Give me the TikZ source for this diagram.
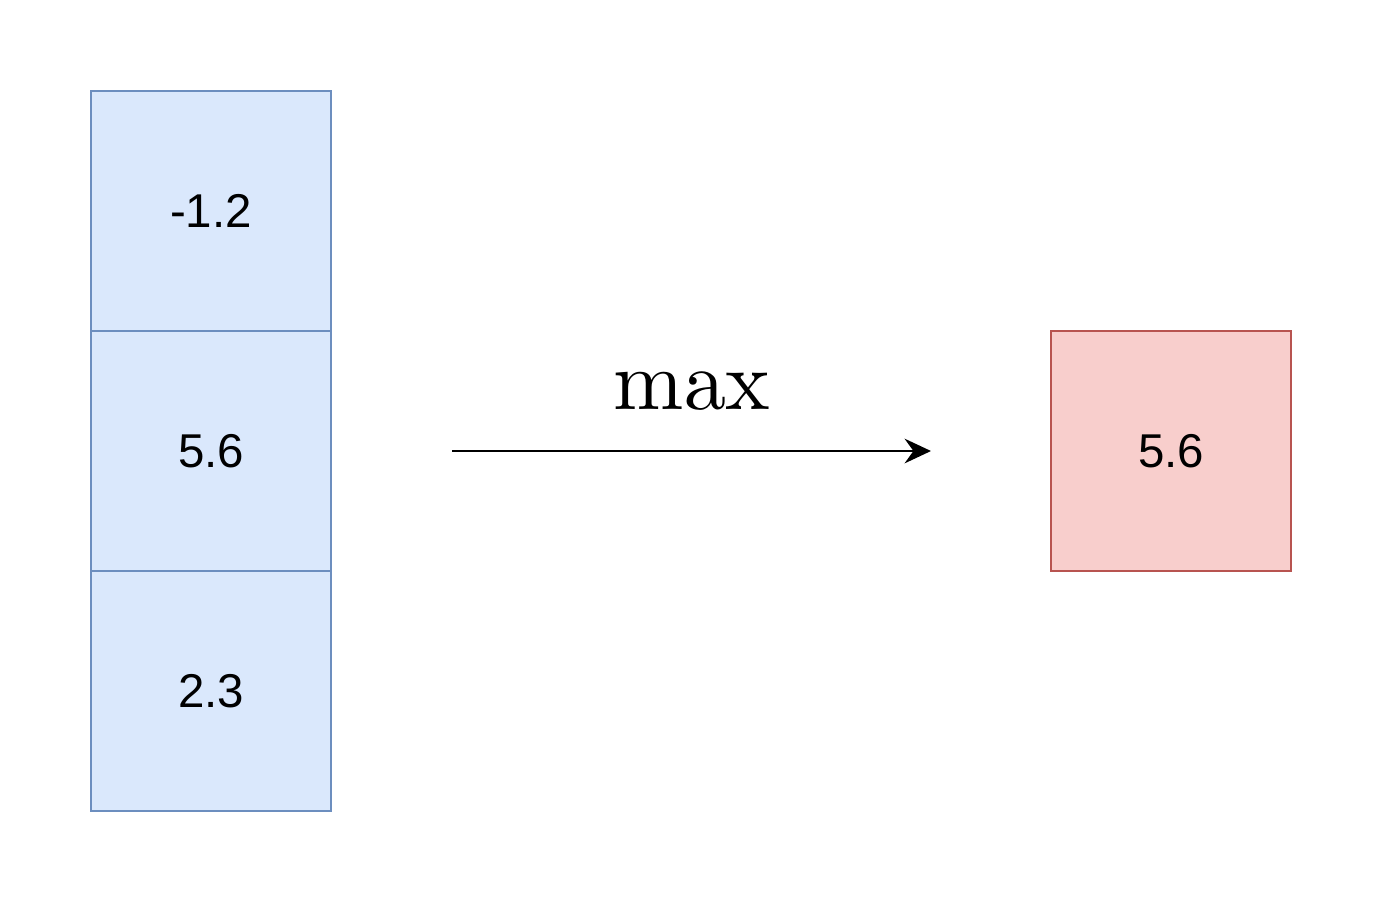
\documentclass[tikz,border=0pt]{standalone}
\usepackage[no-math]{fontspec}
\setmainfont{Liberation Sans}
\usepackage{amsmath}
\usetikzlibrary{arrows.meta, positioning}
\definecolor{blueFill}{HTML}{DAE8FC}
\definecolor{blueLine}{HTML}{6C8EBF}
\definecolor{redFill}{HTML}{F8CECC}
\definecolor{redLine}{HTML}{B85450}
\tikzset{
  cell/.style={draw=blueLine, fill=blueFill, line width=0.75pt, minimum size=2.4cm, inner sep=0pt, font=\fontsize{13.5}{16}\selectfont},
  result/.style={cell, draw=redLine, fill=redFill},
}

\begin{document}
\begin{tikzpicture}[>=Stealth]
  \useasboundingbox (0,0) rectangle (13.83,-9.03);
  \node[cell] (c1) at (2.11,-2.11) {-1.2};
  \node[cell] (c2) at (2.11,-4.51) {5.6};
  \node[cell] (c3) at (2.11,-6.91) {2.3};
  \node[result] (res) at (11.71,-4.51) {5.6};
  \coordinate (a) at (4.52,-4.51);
  \coordinate (b) at (9.31,-4.51);
  \draw[line width=0.8pt, -{Stealth[length=7.5pt, width=7pt, inset=2.5pt]}] (a) -- (b) node[midway, above=0.1cm, scale=2.4]{$\max$};
\end{tikzpicture}
\end{document}
